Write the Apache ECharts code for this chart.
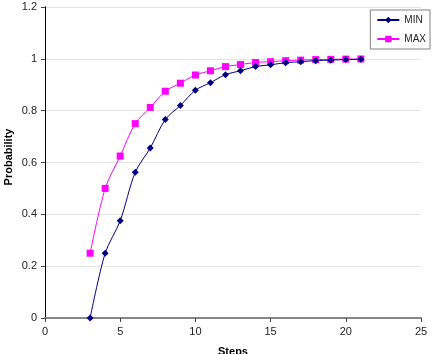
<!DOCTYPE html>
<html>
<head>
<meta charset="utf-8">
<script src="https://cdn.jsdelivr.net/npm/echarts@6/dist/echarts.min.js"></script>
<style>
  html, body { margin: 0; padding: 0; background: #fff; }
  #chart { width: 434px; height: 354px; }
</style>
</head>
<body>
<div id="chart"></div>
<script>
// data
var steps = [3, 4, 5, 6, 7, 8, 9, 10, 11, 12, 13, 14, 15, 16, 17, 18, 19, 20, 21];
var minVals = [0, 0.25, 0.375, 0.5625, 0.656, 0.766, 0.82, 0.879, 0.908, 0.939, 0.954, 0.97, 0.977, 0.985, 0.989, 0.993, 0.995, 0.997, 0.998];
var maxVals = [0.25, 0.5, 0.625, 0.75, 0.8125, 0.875, 0.906, 0.9375, 0.954, 0.97, 0.978, 0.986, 0.989, 0.993, 0.995, 0.997, 0.998, 0.999, 0.9995];
var xTicks = { min: 0, max: 25, interval: 5 };
var yTicks = { min: 0, max: 1.2, interval: 0.2 };

function pairs(xs, ys) {
  var out = [];
  for (var i = 0; i < xs.length; i++) out.push([xs[i], ys[i]]);
  return out;
}

var chart = echarts.init(document.getElementById('chart'));
var labelFont = { color: '#222', fontSize: 11, fontFamily: 'Liberation Sans, Arial' };
var titleFont = 'bold 11px "Liberation Sans", Arial';

var option = {
  animation: false,
  grid: { left: 45, right: 13, top: 7, bottom: 36, containLabel: false, outerBoundsMode: 'none' },
  // y axis title placed by hand (v6 pushes the axis name against the edge)
  graphic: [{
    type: 'text',
    x: 9, y: 157,
    rotation: Math.PI / 2,
    style: { text: 'Probability', font: titleFont, fill: '#000', align: 'center', verticalAlign: 'middle' }
  }],
  legend: {
    orient: 'vertical',
    right: 4,
    top: 10,
    itemWidth: 22,
    itemHeight: 8,
    itemGap: 9,
    padding: [5, 4, 5, 6],
    backgroundColor: '#fff',
    borderColor: '#808080',
    borderWidth: 1,
    textStyle: { color: '#222', fontSize: 10, fontFamily: 'Liberation Sans, Arial' },
    data: ['MIN', 'MAX']
  },
  xAxis: [{
    type: 'value',
    min: xTicks.min, max: xTicks.max, interval: xTicks.interval,
    name: 'Steps',
    nameLocation: 'middle',
    nameGap: 28,
    nameTextStyle: { color: '#000', fontSize: 11, fontWeight: 'bold', fontFamily: 'Liberation Sans, Arial' },
    axisLine: { lineStyle: { color: '#444', width: 1 } },
    axisTick: { show: true, length: 4, lineStyle: { color: '#444' } },
    axisLabel: labelFont,
    splitLine: { show: false }
  }, {
    type: 'value', position: 'top',
    min: xTicks.min, max: xTicks.max,
    axisLine: { show: true, lineStyle: { color: '#888', width: 2 } },
    axisTick: { show: false }, axisLabel: { show: false }, splitLine: { show: false }
  }],
  yAxis: [{
    type: 'value',
    min: yTicks.min, max: yTicks.max, interval: yTicks.interval,
    axisLine: { show: true, lineStyle: { color: '#000', width: 1 } },
    axisTick: { show: true, length: 4, lineStyle: { color: '#444' } },
    axisLabel: Object.assign({ margin: 8 }, labelFont),
    splitLine: { show: true, lineStyle: { color: '#e4e4e4', width: 1 } }
  }, {
    type: 'value', position: 'right',
    min: yTicks.min, max: yTicks.max,
    axisLine: { show: true, lineStyle: { color: '#000', width: 1 } },
    axisTick: { show: false }, axisLabel: { show: false }, splitLine: { show: false }
  }],
  series: [{
    name: 'MIN',
    type: 'line',
    data: pairs(steps, minVals),
    smooth: 0.3,
    symbol: 'diamond',
    symbolSize: 7,
    color: '#000080',
    lineStyle: { width: 1, color: '#000080' },
    itemStyle: { color: '#000080' },
    z: 3
  }, {
    name: 'MAX',
    type: 'line',
    data: pairs(steps, maxVals),
    smooth: 0.3,
    symbol: 'rect',
    symbolSize: 7,
    color: '#ff00ff',
    lineStyle: { width: 1, color: '#ff00ff' },
    itemStyle: { color: '#ff00ff' },
    z: 2
  }]
};
chart.setOption(option);
</script>
</body>
</html>
